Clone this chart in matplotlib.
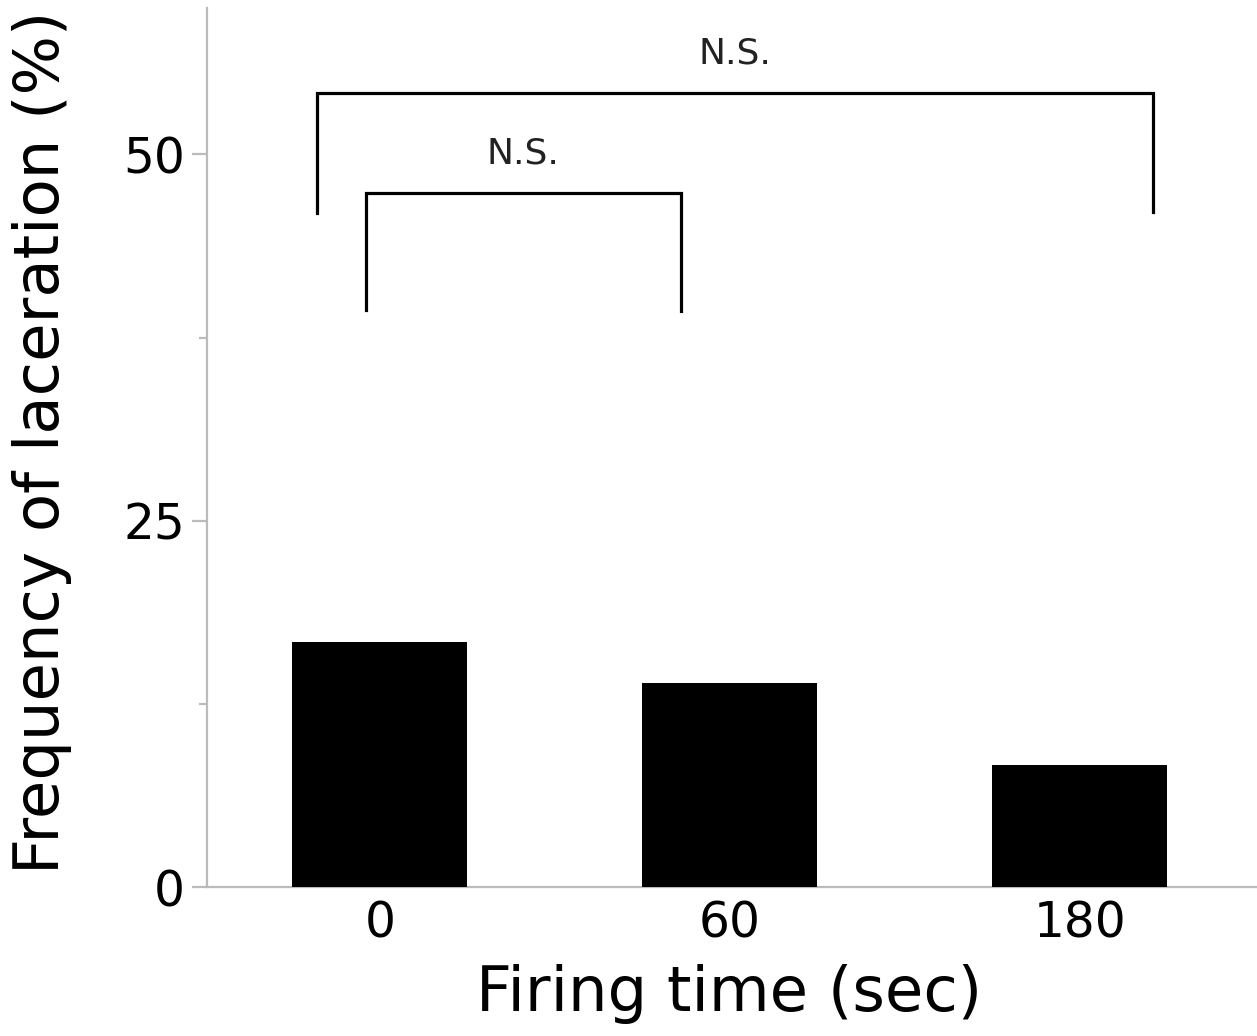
import numpy as np
import matplotlib.pyplot as plt
from matplotlib.ticker import MultipleLocator

# data
categories = ['0', '60', '180']
frequency = [16.7, 13.9, 8.3]

# significance brackets: (left x, right x, left leg bottom, right leg bottom, top, label)
brackets = [
    (-0.18, 2.21, 46.0, 46.1, 54.2, 'N.S.'),
    (-0.04, 0.86, 39.4, 39.3, 47.4, 'N.S.'),
]

plt.rcParams['font.family'] = ['DejaVu Sans']

fig = plt.figure(figsize=(12.57, 10.36), dpi=100)
ax = fig.add_axes([0.1647, 0.1438, 1.0 - 0.1647, 0.9923 - 0.1438])

x = np.arange(len(categories))
ax.bar(x, frequency, width=0.5, color='black', zorder=3)

for x1, x2, y1, y2, top, label in brackets:
    ax.plot([x1, x1, x2, x2], [y1, top, top, y2], color='black', lw=2.3,
            solid_joinstyle='miter', clip_on=False)
    ax.text((x1 + x2) / 2, top + 2.7, label, ha='center', va='center',
            fontsize=26, color='#222222')

ax.set_xlim(-0.494, 2.506)
ax.set_ylim(0, 60)
ax.set_xticks(x)
ax.set_xticklabels(categories)
ax.yaxis.set_major_locator(MultipleLocator(25))
ax.yaxis.set_minor_locator(MultipleLocator(12.5))

for side in ['top', 'right']:
    ax.spines[side].set_visible(False)
for side in ['left', 'bottom']:
    ax.spines[side].set_color('#bbbbbb')
    ax.spines[side].set_linewidth(1.6)

ax.tick_params(axis='x', length=0, pad=9, labelsize=35)
ax.tick_params(axis='y', which='major', length=11, width=1.6, color='#bbbbbb',
               pad=5, labelsize=35)
ax.tick_params(axis='y', which='minor', length=6, width=1.6, color='#bbbbbb')

ax.set_xlabel('Firing time (sec)', fontsize=45)
ax.set_ylabel('Frequency of laceration (%)', fontsize=45)
ax.xaxis.set_label_coords(0.497, -0.088)
ax.yaxis.set_label_coords(-0.129, 0.506)

fig.savefig('out.png', dpi=100)
